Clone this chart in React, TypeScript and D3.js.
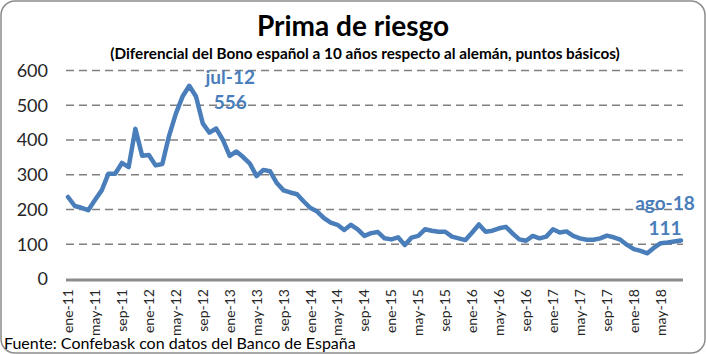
import { useRef, useEffect } from "react";
import * as d3 from "d3";

const W = 706;
const H = 354;

const months = ["ene", "feb", "mar", "abr", "may", "jun", "jul", "ago", "sep", "oct", "nov", "dic"];
const years = ["11", "12", "13", "14", "15", "16", "17", "18"];

// one value per month, ene-11 .. ago-18
const spread = [
  236, 210, 205, 198, 227, 255, 303, 303, 334, 322, 432, 355,
  357, 327, 331, 412, 475, 525, 556, 525, 448, 421, 433, 400,
  354, 367, 351, 332, 296, 314, 310, 276, 255, 249, 244, 223,
  204, 194, 175, 162, 156, 141, 156, 143, 124, 132, 135, 117,
  114, 120, 98, 119, 124, 143, 139, 136, 136, 122, 117, 112,
  134, 157, 136, 139, 146, 150, 131, 114, 110, 124, 117, 122,
  143, 134, 137, 124, 117, 113, 113, 117, 125, 120, 113, 98,
  86, 81, 74, 90, 103, 105, 108, 111,
];

const categories = years.flatMap((y) => months.map((m) => `${m}-${y}`)).slice(0, spread.length);

const tickLabels = [
  "ene-11", "may-11", "sep-11", "ene-12", "may-12", "sep-12", "ene-13", "may-13",
  "sep-13", "ene-14", "may-14", "sep-14", "ene-15", "may-15", "sep-15", "ene-16",
  "may-16", "sep-16", "ene-17", "may-17", "sep-17", "ene-18", "may-18",
];

const yTicks = [0, 100, 200, 300, 400, 500, 600];

const annotations = [
  { cat: "jul-12", label: "jul-12", value: "556", dx: 41, y1: 84, y2: 109 },
  { cat: "ago-18", label: "ago-18", value: "111", dx: -16, y1: 210, y2: 235 },
];

const FONT = "Lato, 'Open Sans', sans-serif";
const BLUE = "#4a7ebb";

export default function App() {
  const svgRef = useRef<SVGSVGElement>(null);

  useEffect(() => {
    if (!svgRef.current) return;
    const svg = d3.select(svgRef.current);
    svg.selectAll("*").remove();

    const left = 66;
    const right = 683;
    const top = 70.5;
    const bottom = 279;

    const x = d3.scalePoint<string>().domain(categories).range([left, right]).padding(0.3);
    const y = d3.scaleLinear().domain([0, 600]).range([bottom, top]);

    // Frame
    svg.append("rect")
      .attr("x", 1).attr("y", 1).attr("width", W - 2).attr("height", H - 2)
      .attr("rx", 14).attr("fill", "#fff").attr("stroke", "#8c8c8c").attr("stroke-width", 1.5);

    // Title
    svg.append("text")
      .attr("x", 353).attr("y", 36).attr("text-anchor", "middle")
      .style("font-family", FONT).style("font-size", "28px").style("font-weight", "bold")
      .style("fill", "#000").text("Prima de riesgo");
    svg.append("text")
      .attr("x", 365).attr("y", 59).attr("text-anchor", "middle")
      .style("font-family", FONT).style("font-size", "15.3px").style("font-weight", "bold")
      .style("fill", "#000")
      .text("(Diferencial del Bono español a 10 años respecto al alemán, puntos básicos)");

    // Grid
    svg.append("g")
      .selectAll("line")
      .data(yTicks.filter((d) => d > 0))
      .join("line")
      .attr("x1", left).attr("x2", right)
      .attr("y1", (d) => y(d)).attr("y2", (d) => y(d))
      .attr("stroke", "#808080").attr("stroke-width", 1.6).attr("stroke-dasharray", "8,5");

    // Y labels
    svg.append("g")
      .selectAll("text")
      .data(yTicks)
      .join("text")
      .attr("x", 48).attr("y", (d) => y(d)).attr("dy", "0.35em")
      .attr("text-anchor", "end")
      .style("font-family", FONT).style("font-size", "18px").style("fill", "#262626")
      .text((d) => String(d));

    // X axis line
    svg.append("line")
      .attr("x1", left).attr("x2", right).attr("y1", bottom + 1).attr("y2", bottom + 1)
      .attr("stroke", "#8c8c8c").attr("stroke-width", 3);

    // X tick labels
    svg.append("g")
      .selectAll("text")
      .data(tickLabels)
      .join("text")
      .attr("transform", (d) => `translate(${(x(d) || 0) + 5},${bottom + 10}) rotate(-90)`)
      .attr("text-anchor", "end")
      .style("font-family", FONT).style("font-size", "14px").style("fill", "#262626")
      .text((d) => d);

    // Line
    const line = d3.line<number>()
      .x((_, i) => x(categories[i]) || 0)
      .y((d) => y(d));
    svg.append("path")
      .datum(spread)
      .attr("d", line)
      .attr("fill", "none").attr("stroke", BLUE).attr("stroke-width", 4.5)
      .attr("stroke-linejoin", "round").attr("stroke-linecap", "round");

    // Annotations
    annotations.forEach((a) => {
      const ax = (x(a.cat) || 0) + a.dx;
      svg.append("text")
        .attr("x", ax).attr("y", a.y1).attr("text-anchor", "middle")
        .style("font-family", FONT).style("font-size", "19px").style("font-weight", "bold")
        .style("fill", BLUE).text(a.label);
      svg.append("text")
        .attr("x", ax).attr("y", a.y2).attr("text-anchor", "middle")
        .style("font-family", FONT).style("font-size", "19px").style("font-weight", "bold")
        .style("fill", BLUE).text(a.value);
    });

    // Source
    svg.append("text")
      .attr("x", 4).attr("y", 349)
      .style("font-family", FONT).style("font-size", "16px").style("fill", "#000")
      .text("Fuente: Confebask con datos del Banco de España");
  }, []);

  return (
    <svg
      ref={svgRef}
      width={W}
      height={H}
      style={{ position: "absolute", left: 0, top: 0, background: "#fff" }}
    />
  );
}
